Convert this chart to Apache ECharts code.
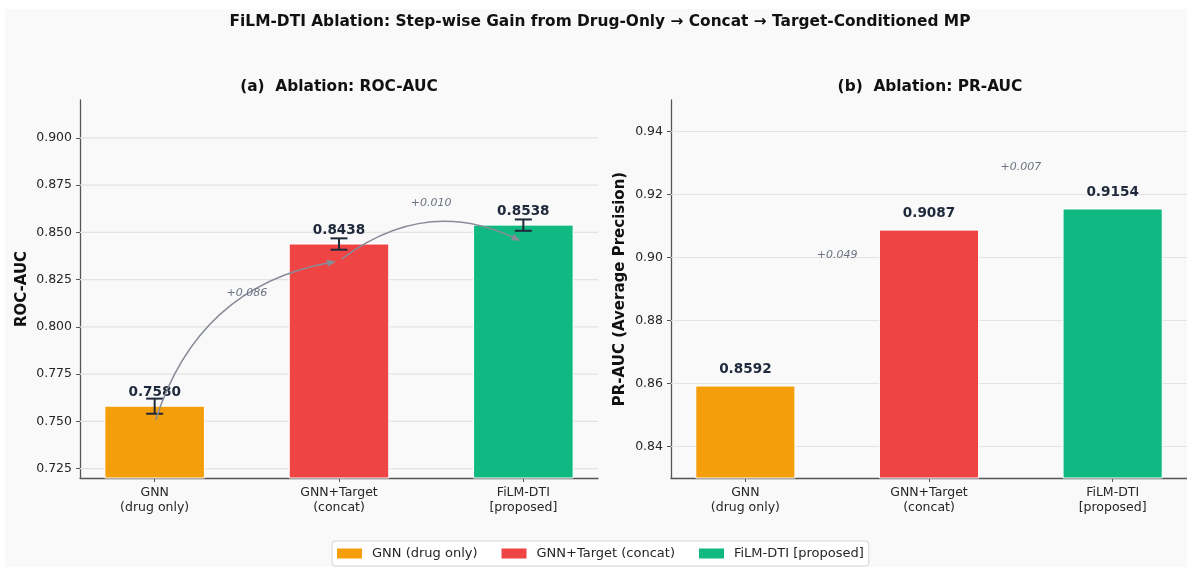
<!DOCTYPE html>
<html>
<head>
<meta charset="utf-8">
<script src="https://cdn.jsdelivr.net/npm/echarts@6/dist/echarts.min.js"></script>
<style>
  html, body { margin: 0; padding: 0; background: #ffffff; }
  #chart { width: 1187px; height: 569px; }
</style>
</head>
<body>
<div id="chart"></div>
<script>
// ---- data ----
const methods = ['GNN (drug only)', 'GNN+Target (concat)', 'FiLM-DTI [proposed]'];
const tickNames = ['GNN\n(drug only)', 'GNN+Target\n(concat)', 'FiLM-DTI\n[proposed]'];
const rocAuc = [0.7580, 0.8438, 0.8538];
const rocErr = [0.004, 0.003, 0.003];
const prAuc = [0.8592, 0.9087, 0.9154];
const rocTicks = [0.725, 0.750, 0.775, 0.800, 0.825, 0.850, 0.875, 0.900];
const prTicks = [0.84, 0.86, 0.88, 0.90, 0.92, 0.94];
const colors = ['#f59e0b', '#ef4444', '#10b981'];

// ---- styling constants ----
const FONT = 'DejaVu Sans';
const INK = '#1e293b';
const BAR_HALF = 0.27;        // half bar width in category units
const LABEL_DY = 0.0028;      // value label offset above the bar value
const DELTA_DY = 0.0167;      // gain label offset above the mean of two bars
const ARROW_DY = -0.009;      // arrow anchor offset from bar value
const ARC_RAD = -0.3;         // arc3-style curvature

const panels = [
  { values: rocAuc, errs: rocErr, ticks: rocTicks, digits: 3, min: 0.72, max: 0.92,
    name: 'ROC-AUC', nameGap: 50, title: '(a)  Ablation: ROC-AUC', left: 80, arrows: true },
  { values: prAuc, errs: null, ticks: prTicks, digits: 2, min: 0.83, max: 0.95,
    name: 'PR-AUC (Average Precision)', nameGap: 43, title: '(b)  Ablation: PR-AUC', left: 671, arrows: false }
];

const GRID_W = 518, GRID_TOP = 100, GRID_H = 378;

const grids = [], xAxes = [], yAxes = [], series = [], titles = [];

titles.push({
  text: 'FiLM-DTI Ablation: Step-wise Gain from Drug-Only \u2192 Concat \u2192 Target-Conditioned MP',
  left: 600, top: 14, textAlign: 'center', padding: 0,
  textStyle: { fontFamily: FONT, fontWeight: 'bold', fontSize: 15.4, color: '#111111' }
});

panels.forEach((p, gi) => {
  grids.push({ left: p.left, top: GRID_TOP, width: GRID_W, height: GRID_H, containLabel: false });
  titles.push({
    text: p.title, left: p.left + GRID_W / 2, top: 79, textAlign: 'center', padding: 0,
    textStyle: { fontFamily: FONT, fontWeight: 'bold', fontSize: 15.4, color: '#111111' }
  });
  xAxes.push({
    type: 'value', gridIndex: gi, min: -0.405, max: 2.405,
    splitLine: { show: false },
    axisLine: { show: true, onZero: false, lineStyle: { color: '#555555', width: 1.3 } },
    axisTick: { show: true, customValues: [0, 1, 2], length: 4, lineStyle: { color: '#555555' } },
    axisLabel: {
      customValues: [0, 1, 2], formatter: v => tickNames[Math.round(v)],
      fontFamily: FONT, fontSize: 12.5, color: '#262626', lineHeight: 15, margin: 7
    }
  });
  yAxes.push({
    type: 'value', gridIndex: gi, min: p.min, max: p.max,
    name: p.name, nameLocation: 'middle', nameGap: p.nameGap,
    nameTextStyle: { fontFamily: FONT, fontWeight: 'bold', fontSize: 15, color: '#111111' },
    splitLine: { show: false },
    axisLine: { show: true, onZero: false, lineStyle: { color: '#555555', width: 1.3 } },
    axisTick: { show: true, customValues: p.ticks, length: 4, lineStyle: { color: '#555555' } },
    axisLabel: {
      customValues: p.ticks, formatter: v => v.toFixed(p.digits),
      fontFamily: FONT, fontSize: 12.5, color: '#262626', margin: 8
    }
  });

  // horizontal grid lines at the tick values
  series.push({
    type: 'custom', xAxisIndex: gi, yAxisIndex: gi, silent: true, z: 1,
    data: p.ticks.map(t => [0, t]),
    renderItem: (params, api) => {
      const cs = params.coordSys;
      const pt = api.coord([0, api.value(1)]);
      return { type: 'line', shape: { x1: cs.x, y1: pt[1], x2: cs.x + cs.width, y2: pt[1] },
               style: { stroke: '#e3e3e3', lineWidth: 1.2 } };
    }
  });

  // one bar series per method, with optional error bar and value label
  methods.forEach((m, mi) => {
    series.push({
      type: 'custom', name: m, xAxisIndex: gi, yAxisIndex: gi, z: 3,
      itemStyle: { color: colors[mi] },
      data: [[mi, p.values[mi], p.errs ? p.errs[mi] : 0]],
      renderItem: (params, api) => {
        const cs = params.coordSys;
        const x = api.value(0), v = api.value(1), e = api.value(2);
        const bottom = cs.y + cs.height;
        const tl = api.coord([x - BAR_HALF, v]);
        const tr = api.coord([x + BAR_HALF, v]);
        const children = [{
          type: 'rect',
          shape: { x: tl[0], y: tl[1], width: tr[0] - tl[0], height: bottom - tl[1] },
          style: { fill: colors[mi], stroke: '#ffffff', lineWidth: 1 }
        }];
        if (e > 0) {
          const hi = api.coord([x, v + e]), lo = api.coord([x, v - e]);
          const es = { stroke: INK, lineWidth: 2 };
          children.push({ type: 'line', shape: { x1: hi[0], y1: hi[1], x2: lo[0], y2: lo[1] }, style: es });
          children.push({ type: 'line', shape: { x1: hi[0] - 8.5, y1: hi[1], x2: hi[0] + 8.5, y2: hi[1] }, style: es });
          children.push({ type: 'line', shape: { x1: lo[0] - 8.5, y1: lo[1], x2: lo[0] + 8.5, y2: lo[1] }, style: es });
        }
        const lp = api.coord([x, v + LABEL_DY]);
        children.push({
          type: 'text', x: lp[0], y: lp[1] - 8, z2: 5,
          style: { text: v.toFixed(4), fontFamily: FONT, fontWeight: 'bold', fontSize: 13.6,
                   fill: INK, align: 'center', verticalAlign: 'middle' }
        });
        return { type: 'group', children };
      }
    });
  });

  // step-wise gain labels between neighbouring bars
  const deltas = [];
  for (let i = 0; i < p.values.length - 1; i++) {
    deltas.push([i + 0.5, (p.values[i] + p.values[i + 1]) / 2 + DELTA_DY, p.values[i + 1] - p.values[i]]);
  }
  series.push({
    type: 'custom', xAxisIndex: gi, yAxisIndex: gi, silent: true, z: 6,
    data: deltas,
    renderItem: (params, api) => {
      const pt = api.coord([api.value(0), api.value(1)]);
      const d = api.value(2);
      return { type: 'text', x: pt[0], y: pt[1],
               style: { text: (d >= 0 ? '+' : '') + d.toFixed(3), fontFamily: FONT, fontStyle: 'italic',
                        fontSize: 11, fill: '#6b7280', align: 'center', verticalAlign: 'middle' } };
    }
  });

  // curved arrows linking consecutive bars
  if (p.arrows) {
    const arrows = [];
    for (let i = 0; i < p.values.length - 1; i++) {
      arrows.push([i, p.values[i] + ARROW_DY, i + 1, p.values[i + 1] + ARROW_DY]);
    }
    series.push({
      type: 'custom', xAxisIndex: gi, yAxisIndex: gi, silent: true, z: 5,
      encode: { x: [0, 2], y: [1, 3] },
      data: arrows,
      renderItem: (params, api) => {
        const a = api.coord([api.value(0), api.value(1)]);
        const b = api.coord([api.value(2), api.value(3)]);
        const dx = b[0] - a[0], dy = b[1] - a[1];
        const cx = (a[0] + b[0]) / 2 - ARC_RAD * dy;
        const cy = (a[1] + b[1]) / 2 + ARC_RAD * dx;
        const unit = (px, py) => { const l = Math.hypot(px, py) || 1; return [px / l, py / l]; };
        const us = unit(cx - a[0], cy - a[1]);
        const ue = unit(b[0] - cx, b[1] - cy);
        const s = [a[0] + us[0] * 3, a[1] + us[1] * 3];
        const tip = [b[0] - ue[0] * 3, b[1] - ue[1] * 3];
        const headL = 9, headW = 3.6;
        const base = [tip[0] - ue[0] * headL, tip[1] - ue[1] * headL];
        const nx = -ue[1], ny = ue[0];
        const col = '#878c98';
        return {
          type: 'group',
          children: [
            { type: 'bezierCurve',
              shape: { x1: s[0], y1: s[1], cpx1: cx, cpy1: cy, x2: base[0] + ue[0] * 2, y2: base[1] + ue[1] * 2 },
              style: { stroke: col, lineWidth: 1.5, fill: 'none' } },
            { type: 'polygon',
              shape: { points: [tip, [base[0] + nx * headW, base[1] + ny * headW], [base[0] - nx * headW, base[1] - ny * headW]] },
              style: { fill: col } }
          ]
        };
      }
    });
  }
});

const chart = echarts.init(document.getElementById('chart'), null, { renderer: 'canvas' });
chart.setOption({
  backgroundColor: '#ffffff',
  animation: false,
  title: titles,
  graphic: [{
    type: 'rect', left: 5, top: 9, z: -100, silent: true,
    shape: { width: 1182, height: 558 }, style: { fill: '#f9f9f9' }
  }],
  legend: {
    data: methods, left: 332, top: 541, orient: 'horizontal',
    icon: 'rect', itemWidth: 25, itemHeight: 10, itemGap: 24,
    backgroundColor: '#ffffff', borderColor: '#d4d4d4', borderWidth: 1, borderRadius: 3,
    padding: [6, 5, 6, 5],
    itemStyle: { borderWidth: 0 },
    textStyle: { fontFamily: FONT, fontSize: 13, color: '#262626', padding: [0, 0, 0, 5] }
  },
  grid: grids,
  xAxis: xAxes,
  yAxis: yAxes,
  series: series
});
</script>
</body>
</html>
